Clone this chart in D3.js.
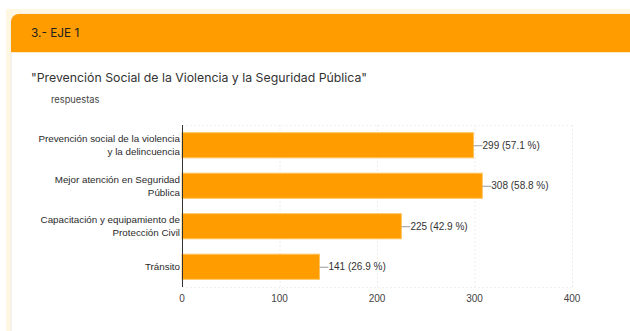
<!DOCTYPE html>
<html>
<head>
<meta charset="utf-8">
<script src="https://cdn.jsdelivr.net/npm/d3@7"></script>
<style>
  html, body { margin: 0; padding: 0; background: #ffffff; }
  svg { display: block; }
</style>
</head>
<body>
<svg id="chart" width="630" height="331"></svg>
<script>
// Survey answers for axis 1
const categories = [
  ["Prevención social de la violencia", "y la delincuencia"],
  ["Mejor atención en Seguridad", "Pública"],
  ["Capacitación y equipamiento de", "Protección Civil"],
  ["Tránsito"]
];
const counts = [299, 308, 225, 141];
const percents = ["57.1", "58.8", "42.9", "26.9"];
const xTicks = [0, 100, 200, 300, 400];

const svg = d3.select("#chart");

// Page frame and card
svg.append("rect").attr("x", 6).attr("y", 9).attr("width", 624).attr("height", 322).attr("fill", "#fff7e2");
svg.append("rect").attr("x", 11).attr("y", 14).attr("width", 640).attr("height", 340)
  .attr("rx", 8).attr("fill", "#ffffff").attr("stroke", "#ece9e4").attr("stroke-width", 1);
svg.append("path")
  .attr("d", "M11,52 V22 A8,8 0 0 1 19,14 H630 V52 Z")
  .attr("fill", "#ff9c00");
svg.append("line").attr("x1", 11).attr("x2", 630).attr("y1", 52.5).attr("y2", 52.5)
  .attr("stroke", "#ffe9c4").attr("stroke-width", 1);

svg.append("text").attr("x", 31).attr("y", 37)
  .attr("font-family", "Inter, 'Open Sans', sans-serif").attr("font-size", 11.8)
  .attr("fill", "#202020").text("3.- EJE 1");

svg.append("text").attr("x", 31).attr("y", 81.5)
  .attr("font-family", "Inter, 'Open Sans', sans-serif").attr("font-size", 12.3)
  .attr("fill", "#333333").text("\"Prevención Social de la Violencia y la Seguridad Pública\"");

svg.append("text").attr("x", 51).attr("y", 103)
  .attr("font-family", "Inter, 'Open Sans', sans-serif").attr("font-size", 9.3)
  .attr("fill", "#444444").text("respuestas");

// Plot scales
const x = d3.scaleLinear().domain([0, 400]).range([182, 572]);
const y = d3.scaleBand().domain(d3.range(categories.length)).range([125, 287])
  .paddingInner(0.38).paddingOuter(0.19);

const font = "'Liberation Sans', Arial, sans-serif";
const g = svg.append("g");

// Dotted grid
g.selectAll("line.grid").data(xTicks.slice(1)).join("line")
  .attr("class", "grid")
  .attr("x1", d => x(d) + 0.5).attr("x2", d => x(d) + 0.5)
  .attr("y1", 125).attr("y2", 287)
  .attr("stroke", "#ececec").attr("stroke-dasharray", "2,2");
[125, 287].forEach(yy => {
  g.append("line").attr("x1", x(0)).attr("x2", x(400)).attr("y1", yy + 0.5).attr("y2", yy + 0.5)
    .attr("stroke", "#f2f2f2").attr("stroke-dasharray", "2,2");
});

// Bars
g.selectAll("rect.bar").data(counts).join("rect")
  .attr("class", "bar")
  .attr("x", x(0)).attr("y", (d, i) => y(i))
  .attr("width", d => x(d) - x(0)).attr("height", y.bandwidth())
  .attr("fill", "#ff9c00").attr("stroke", "#ffc45e").attr("stroke-width", 1);

// Zero axis line
g.append("line").attr("x1", x(0) + 0.5).attr("x2", x(0) + 0.5).attr("y1", 125).attr("y2", 287)
  .attr("stroke", "#333333").attr("stroke-width", 1);

// Value labels with leader lines
counts.forEach((d, i) => {
  const cy = y(i) + y.bandwidth() / 2;
  g.append("line").attr("x1", x(d)).attr("x2", x(d) + 9)
    .attr("y1", cy + 0.5).attr("y2", cy + 0.5).attr("stroke", "#9a9a9a");
  g.append("text").attr("x", x(d) + 9).attr("y", cy).attr("dy", "0.35em")
    .attr("font-family", font).attr("font-size", 10).attr("fill", "#333333")
    .text(`${d} (${percents[i]} %)`);
});

// Category labels
categories.forEach((lines, i) => {
  const cy = y(i) + y.bandwidth() / 2;
  const t = g.append("text").attr("text-anchor", "end")
    .attr("font-family", font).attr("font-size", 9.8).attr("fill", "#2a2a2a");
  lines.forEach((ln, k) => {
    t.append("tspan").attr("x", 180)
      .attr("y", cy + (k - (lines.length - 1) / 2) * 12.7)
      .attr("dy", "0.35em").text(ln);
  });
});

// X axis tick labels
g.selectAll("text.tick").data(xTicks).join("text")
  .attr("class", "tick")
  .attr("x", d => x(d)).attr("y", 298).attr("dy", "0.35em")
  .attr("text-anchor", "middle").attr("font-family", font).attr("font-size", 10)
  .attr("fill", "#444444").text(d => d);
</script>
</body>
</html>
